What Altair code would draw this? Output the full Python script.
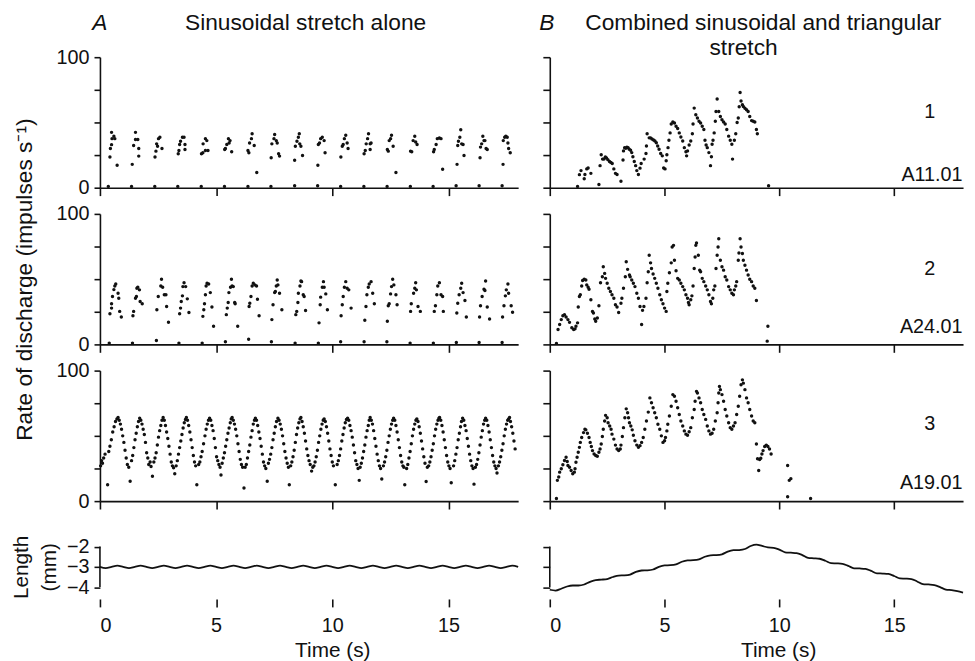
import altair as alt
import pandas as pd

# ---------------- data (time s, rate impulses/s) ----------------
# Column A: sinusoidal stretch alone
A1 = [  # A11.01
    (0.36, 1), (0.43, 23.5), (0.45, 30), (0.50, 33), (0.52, 37.6), (0.50, 42.4), (0.60, 39.4), (0.64, 37.6), (0.74, 17.2),
    (1.36, 1), (1.39, 17.9), (1.45, 32.3), (1.53, 42.4), (1.53, 36.9), (1.63, 36.9), (1.67, 30.1), (1.67, 24.2),
    (2.36, 1), (2.37, 23.5), (2.41, 28), (2.44, 33.6), (2.52, 37.6), (2.58, 38.6), (2.67, 30.1), (2.48, 31.8),
    (3.35, 1), (3.37, 26), (3.40, 28.5), (3.43, 33.1), (3.47, 35.6), (3.55, 38.6), (3.62, 38.6), (3.66, 33.1), (3.66, 29.3),
    (4.36, 1), (4.37, 26), (4.43, 26.8), (4.44, 33.6), (4.54, 37.6), (4.60, 36.1), (4.65, 28.5), (4.54, 28.5),
    (5.36, 1), (5.37, 29.3), (5.40, 30.1), (5.46, 33.1), (5.53, 37.6), (5.56, 34.3), (5.60, 36.1), (5.67, 27.5),
    (6.37, 1), (6.37, 28.5), (6.41, 26.8), (6.44, 34.3), (6.52, 37.6), (6.55, 41.4), (6.64, 32.3), (6.75, 11.6),
    (7.36, 1), (7.37, 23), (7.40, 33.6), (7.49, 37.6), (7.52, 40.7), (7.59, 36.1), (7.63, 34.3), (7.69, 26), (7.73, 24.2),
    (8.38, 1.5), (8.38, 21), (8.41, 31.8), (8.48, 35.6), (8.54, 38.6), (8.58, 41.4), (8.60, 33.6), (8.65, 31.8), (8.72, 24.7),
    (9.37, 1.5), (9.38, 17.2), (9.40, 33.1), (9.45, 34.3), (9.50, 37.6), (9.57, 38.6), (9.65, 36.1), (9.69, 26.8),
    (10.36, 1), (10.37, 23.5), (10.43, 31.8), (10.47, 33.1), (10.52, 37.6), (10.58, 40.2), (10.64, 34.3), (10.68, 30.1),
    (11.36, 1), (11.37, 26), (11.42, 28.5), (11.46, 33.6), (11.52, 37.6), (11.56, 41.4), (11.63, 33.6), (11.67, 34.3), (11.63, 29.3),
    (12.36, 1), (12.37, 29.3), (12.41, 28), (12.45, 36.1), (12.51, 37.6), (12.55, 40.2), (12.62, 31.8), (12.74, 11.6),
    (13.36, 1), (13.37, 28), (13.42, 27.5), (13.48, 36.1), (13.55, 39.4), (13.59, 35), (13.65, 33.1),
    (14.34, 1), (14.36, 27.5), (14.39, 29.3), (14.47, 33.1), (14.52, 37.6), (14.61, 38.1), (14.68, 37.6), (14.75, 14.1),
    (15.33, 1.5), (15.37, 17.9), (15.40, 32.3), (15.43, 35.6), (15.49, 38.6), (15.53, 44.4), (15.57, 33.6), (15.63, 33.1), (15.67, 24.7),
    (16.32, 1.5), (16.36, 23), (16.38, 31.1), (16.43, 33.6), (16.48, 39.4), (16.53, 36.1), (16.57, 36.1), (16.62, 30.1), (16.67, 29.3),
    (17.31, 1.5), (17.35, 17.9), (17.36, 36.1), (17.42, 38.6), (17.47, 39.4), (17.53, 38.6), (17.59, 30.1), (17.66, 26.8), (17.56, 34.3),
]
A2 = [  # A24.01
    (0.40, 1), (0.43, 23.5), (0.50, 27.8), (0.50, 31.1), (0.54, 36.7), (0.60, 42), (0.64, 44.8), (0.68, 46.3), (0.78, 39.2), (0.81, 35.4), (0.85, 25.3), (0.92, 21),
    (1.40, 1), (1.42, 22), (1.45, 25.3), (1.53, 35.4), (1.57, 36.7), (1.59, 43), (1.63, 43.8), (1.70, 41.8), (1.73, 32.9), (1.82, 31.1),
    (2.43, 3), (2.45, 26.6), (2.51, 36.7), (2.62, 44.8), (2.65, 49.9), (2.70, 43.8), (2.77, 38), (2.84, 38), (2.87, 29.1), (2.95, 17),
    (3.40, 1), (3.43, 23.5), (3.47, 27.8), (3.50, 32.9), (3.55, 37.2), (3.57, 44.3), (3.62, 47.3), (3.69, 44.3), (3.76, 34.9), (3.83, 24.5),
    (4.40, 1), (4.43, 21.5), (4.47, 26.6), (4.50, 31.1), (4.54, 38), (4.57, 44.8), (4.61, 46.8), (4.68, 46.3), (4.75, 39.7), (4.82, 28.6), (4.89, 13.9),
    (5.40, 2), (5.44, 22.8), (5.48, 27.8), (5.52, 32.1), (5.55, 39.7), (5.62, 43.8), (5.66, 49.9), (5.69, 44.8), (5.74, 44.3), (5.80, 32.1), (5.82, 31.1), (5.93, 13.9),
    (6.40, 4), (6.42, 29.1), (6.45, 31.6), (6.50, 36.7), (6.55, 44.8), (6.60, 46.8), (6.67, 45.6), (6.74, 44.8), (6.78, 34.6), (6.85, 22),
    (7.38, 2), (7.40, 19), (7.45, 30.4), (7.52, 39.7), (7.55, 40.5), (7.59, 44.8), (7.63, 49.4), (7.66, 45.6), (7.73, 39.2), (7.83, 26.6),
    (8.40, 1), (8.43, 22.8), (8.47, 25.3), (8.52, 32.1), (8.54, 39.2), (8.61, 44.8), (8.65, 48.6), (8.68, 48.1), (8.75, 38), (8.79, 36.7), (8.85, 26),
    (9.40, 1), (9.43, 16.5), (9.48, 30.4), (9.50, 36.2), (9.57, 43.8), (9.62, 48.1), (9.65, 43.8), (9.72, 38.7), (9.79, 26.6),
    (10.36, 2), (10.38, 22), (10.43, 30.4), (10.47, 36.7), (10.52, 43.8), (10.58, 48.1), (10.64, 43), (10.71, 41.8), (10.81, 27.8),
    (11.37, 2), (11.40, 18.5), (11.45, 29.1), (11.49, 38), (11.55, 43.8), (11.59, 46.3), (11.67, 48.1), (11.74, 39.2), (11.81, 31.1),
    (12.35, 2), (12.37, 17.8), (12.41, 29.6), (12.45, 31.1), (12.51, 38.7), (12.55, 44.3), (12.60, 49.9), (12.65, 45.6), (12.74, 38), (12.79, 30.4),
    (13.35, 1), (13.37, 25.3), (13.40, 31.1), (13.50, 39.2), (13.55, 43), (13.59, 47.3), (13.62, 41.8), (13.69, 29.1), (13.79, 25.3),
    (14.35, 1), (14.39, 25.3), (14.44, 29.6), (14.50, 38), (14.54, 44.8), (14.61, 47.3), (14.68, 38), (14.75, 36.7), (14.78, 25.3),
    (15.34, 1.5), (15.36, 24.1), (15.40, 31.6), (15.46, 38), (15.53, 43), (15.57, 46.8), (15.63, 39.7), (15.71, 33.6), (15.77, 21),
    (16.32, 1.5), (16.34, 21), (16.38, 29.6), (16.45, 36.7), (16.53, 42.3), (16.60, 48.6), (16.57, 41.3), (16.67, 28.6), (16.77, 19.5),
    (17.31, 1.5), (17.33, 21), (17.39, 29.6), (17.45, 37.2), (17.49, 41.8), (17.56, 46.3), (17.59, 39.2), (17.70, 29.6), (17.76, 24.6),
]
A3_t = [
    0.03, 0.07, 0.11, 0.16, 0.22, 0.33, 0.38, 0.43, 0.49, 0.55, 0.61, 0.67, 0.73, 0.78, 0.83, 0.88, 0.93, 0.98, 1.03, 1.08, 1.13, 1.18, 1.24,
    1.30, 1.36, 1.41, 1.46, 1.51, 1.56, 1.61, 1.66, 1.71, 1.76, 1.81, 1.86, 1.91, 1.96, 2.01, 2.06, 2.10, 2.16, 2.20, 2.26,
    2.32, 2.37, 2.42, 2.47, 2.52, 2.57, 2.62, 2.67, 2.72, 2.77, 2.82, 2.87, 2.92, 2.97, 3.02, 3.07, 3.12, 3.17, 3.22,
    3.28, 3.33, 3.38, 3.43, 3.48, 3.53, 3.58, 3.63, 3.68, 3.72, 3.77, 3.82, 3.87, 3.92, 3.97, 4.02, 4.07, 4.12, 4.17,
    4.25, 4.30, 4.35, 4.40, 4.46, 4.52, 4.57, 4.62, 4.67, 4.72, 4.77, 4.82, 4.87, 4.92, 4.97, 5.02, 5.07, 5.12, 5.17, 5.21,
    5.26, 5.31, 5.36, 5.41, 5.46, 5.51, 5.56, 5.61, 5.65, 5.69, 5.74, 5.79, 5.84, 5.89, 5.94, 5.99, 6.04, 6.09, 6.14, 6.20,
    6.25, 6.30, 6.35, 6.40, 6.45, 6.50, 6.55, 6.60, 6.65, 6.69, 6.74, 6.79, 6.84, 6.89, 6.94, 6.99, 7.04, 7.09, 7.14, 7.20,
    7.25, 7.30, 7.35, 7.40, 7.45, 7.50, 7.55, 7.60, 7.66, 7.71, 7.76, 7.81, 7.86, 7.91, 7.96, 8.01, 8.06, 8.11, 8.15,
    8.21, 8.26, 8.31, 8.36, 8.41, 8.46, 8.51, 8.56, 8.61, 8.65, 8.70, 8.75, 8.80, 8.85, 8.90, 8.95, 9.00, 9.05, 9.11,
    9.16, 9.21, 9.26, 9.31, 9.36, 9.41, 9.46, 9.51, 9.56, 9.61, 9.65, 9.70, 9.75, 9.80, 9.85, 9.90, 9.95, 10.00, 10.05, 10.13,
    10.21, 10.26, 10.31, 10.36, 10.41, 10.46, 10.51, 10.56, 10.61, 10.66, 10.71, 10.76, 10.81, 10.86, 10.91, 10.96, 11.01, 11.06, 11.11, 11.16,
    11.20, 11.25, 11.30, 11.35, 11.40, 11.45, 11.50, 11.55, 11.59, 11.63, 11.68, 11.73, 11.78, 11.83, 11.88, 11.93, 11.98, 12.03, 12.08, 12.13,
    12.20, 12.25, 12.30, 12.35, 12.40, 12.45, 12.50, 12.55, 12.60, 12.64, 12.69, 12.74, 12.79, 12.84, 12.89, 12.94, 12.99, 13.04, 13.08, 13.12,
    13.20, 13.25, 13.30, 13.35, 13.40, 13.45, 13.50, 13.55, 13.60, 13.64, 13.69, 13.74, 13.79, 13.84, 13.89, 13.94, 13.99, 14.04, 14.09,
    14.15, 14.20, 14.25, 14.30, 14.35, 14.40, 14.45, 14.50, 14.55, 14.59, 14.62, 14.67, 14.72, 14.77, 14.82, 14.87, 14.92, 14.97, 15.02, 15.07, 15.12,
    15.22, 15.27, 15.32, 15.37, 15.42, 15.47, 15.52, 15.56, 15.61, 15.66, 15.71, 15.76, 15.81, 15.86, 15.91, 15.96, 16.01, 16.06, 16.10,
    16.16, 16.21, 16.26, 16.31, 16.36, 16.41, 16.46, 16.51, 16.56, 16.60, 16.65, 16.70, 16.75, 16.80, 16.85, 16.90, 16.95, 17.00, 17.05, 17.09,
    17.15, 17.20, 17.25, 17.30, 17.35, 17.40, 17.45, 17.50, 17.55, 17.59, 17.63, 17.67, 17.72, 17.77, 17.82, 17.87,
]
A3_r = [
    27, 31, 29, 33, 36, 12.6, 38, 42, 47, 53, 57, 61, 63, 64, 62, 59, 55, 50, 45, 39, 33, 28, 26,
    15.2, 31, 35, 41, 47, 52, 57, 61, 63.5, 62, 59, 55, 51, 45, 37, 33, 28, 30, 26.5, 19,
    30, 33, 37, 43, 49, 54, 58, 62, 64, 62, 58, 53, 48, 42, 36, 30, 27, 25.5, 21,
    27, 31, 36, 41, 46, 51, 56, 60, 62.5, 64, 62, 58, 53, 47, 41, 35, 30, 27, 12.6,
    28, 30, 34, 38, 44, 50, 55, 59, 62, 63.5, 62, 58, 54, 48, 41, 34, 31, 28, 26, 20,
    29, 33, 37, 42, 47, 52, 56, 60, 63, 64, 62, 59, 55, 50, 44, 38, 32, 28, 26, 10.1,
    26, 28, 33, 38, 43, 49, 54, 59, 62, 63.5, 62, 58, 53, 48, 42, 36, 30, 27, 25, 15.2,
    29, 32, 36, 41, 47, 52, 57, 61, 63.5, 62, 59, 55, 50, 44, 38, 33, 29, 26, 12.6,
    27, 30, 34, 39, 45, 51, 56, 60, 63, 64, 61, 57, 52, 46, 40, 35, 31, 28, 23,
    26, 27, 30, 34, 39, 45, 50, 55, 59, 62, 63, 61, 57, 52, 46, 40, 35, 30, 27, 12.6,
    28, 31, 35, 40, 46, 51, 56, 60, 62.5, 63.5, 62, 58, 54, 49, 43, 37, 31, 28, 25, 15.9,
    26, 29, 33, 38, 43, 49, 54, 58, 62, 64, 62, 59, 54, 48, 42, 36, 31, 27, 25, 17,
    27, 30, 34, 39, 45, 50, 55, 59, 62, 63.5, 62, 58, 53, 47, 41, 35, 30, 27, 26, 12.6,
    25, 28, 33, 38, 44, 50, 55, 59, 62, 63, 61, 57, 52, 46, 40, 34, 29, 15, 26,
    27, 30, 34, 39, 44, 50, 55, 59, 62, 63.5, 64, 62, 58, 53, 47, 41, 35, 30, 27, 25, 14,
    27, 31, 36, 41, 47, 52, 57, 61, 63.5, 62, 58, 54, 48, 42, 36, 31, 27, 25, 13,
    26, 28, 32, 37, 43, 49, 54, 59, 62, 63.5, 62, 58, 53, 47, 41, 35, 30, 27, 25, 21.5,
    27, 30, 34, 39, 44, 50, 55, 59, 62, 63, 64, 61, 57, 52, 46, 40,
]
A3 = list(zip(A3_t, A3_r))  # A19.01

# Column B: combined sinusoidal and triangular stretch
B1 = [  # A11.01
    (1.21, 1), (2.14, 2.5), (3.10, 5), (9.53, 1.5),
    (1.29, 10), (1.36, 13.1), (1.50, 6.8), (1.53, 10.1), (1.61, 14.4), (1.67, 15.1), (1.79, 11),
    (2.19, 16.9), (2.24, 25.2), (2.30, 21.9), (2.36, 22), (2.42, 23.5), (2.47, 22.7), (2.53, 21.5), (2.60, 20.1), (2.66, 19.4), (2.72, 18.6), (2.79, 14.4), (2.86, 11), (2.93, 10.1),
    (3.19, 21.2), (3.21, 28.2), (3.26, 30.7), (3.31, 30.2), (3.36, 31), (3.41, 30.7), (3.46, 29.5), (3.52, 28.7), (3.57, 26.9), (3.62, 23.7), (3.68, 20.1), (3.74, 16.9), (3.79, 13.1), (3.86, 10.1), (3.93, 15), (3.98, 18.6),
    (4.11, 21.9), (4.19, 26.2), (4.21, 32), (4.24, 41.3), (4.33, 38.2), (4.39, 38.2), (4.45, 37.3), (4.52, 36.5), (4.58, 35.8), (4.64, 34.5), (4.70, 32), (4.76, 29.5), (4.83, 26.2), (4.90, 24.4), (4.96, 15.1), (5.02, 14.4),
    (5.07, 20.6), (5.10, 25.2), (5.15, 30.7), (5.19, 36.3), (5.24, 42), (5.29, 48.8), (5.36, 50.3), (5.43, 49.6), (5.50, 47.1), (5.57, 45.4), (5.64, 42), (5.71, 38.8), (5.79, 35.8), (5.86, 30.7), (5.93, 27.5), (5.96, 24.4), (6.00, 28.2), (6.07, 32.7), (6.14, 35.8), (6.21, 41.3), (6.24, 48.8),
    (6.29, 61), (6.36, 55.9), (6.43, 53.4), (6.50, 50.9), (6.57, 49.6), (6.64, 47.1), (6.71, 44.6), (6.76, 36.3), (6.81, 32.7), (6.86, 30.7), (6.93, 26.9), (7.00, 16.9), (7.04, 23.7), (7.07, 33.3), (7.11, 36.3), (7.16, 42), (7.21, 50.9),
    (7.24, 58.4), (7.29, 68), (7.36, 58.4), (7.43, 54.6), (7.50, 52.1), (7.57, 50.3), (7.64, 48.8), (7.71, 44.6), (7.79, 39.5), (7.86, 36.3), (7.93, 33.3), (7.96, 21.9), (8.04, 36.3), (8.10, 41.3), (8.16, 50), (8.21, 53.4),
    (8.25, 62), (8.29, 73), (8.33, 66.5), (8.39, 63.5), (8.43, 62.2), (8.50, 60.9), (8.57, 59.7), (8.64, 58.4), (8.71, 54.6), (8.79, 51.4), (8.86, 50.9), (8.93, 50.3), (9.00, 44.6), (9.04, 41.3),
]
B2 = [  # A24.01
    (0.29, 0.8), (0.36, 11.4), (0.43, 15.2), (0.50, 19), (0.57, 22), (0.64, 22.8), (0.71, 21), (0.79, 19), (0.86, 16.9), (0.96, 12.7), (1.04, 11.4), (1.10, 11.9), (1.14, 13.9), (1.21, 16.5),
    (1.24, 28.6), (1.29, 36.7), (1.33, 38), (1.39, 44.8), (1.43, 48.9), (1.50, 49.9), (1.57, 49.4), (1.61, 45.6), (1.67, 43.8), (1.71, 42.3), (1.79, 34.2), (1.86, 25.3), (1.90, 24), (1.96, 19.5), (2.00, 17.7), (2.07, 20.2),
    (2.14, 29.6), (2.21, 47.3), (2.29, 51.9), (2.33, 59.5), (2.39, 54.4), (2.43, 50.6), (2.50, 46.8), (2.57, 43), (2.64, 40.5), (2.71, 38), (2.79, 35.4), (2.86, 30.4), (2.93, 28.6), (3.00, 24.5),
    (3.10, 31.6), (3.14, 35.4), (3.21, 43), (3.29, 51.9), (3.33, 63.3), (3.39, 57.5), (3.47, 53.2), (3.50, 51.9), (3.57, 49.4), (3.64, 46.8), (3.71, 44.3), (3.79, 39.2), (3.86, 35.4), (3.93, 29.1), (4.00, 15.2),
    (4.04, 26.1), (4.10, 29.1), (4.19, 35.4), (4.24, 47.3), (4.29, 55.7), (4.33, 68.3), (4.39, 62.5), (4.43, 58.2), (4.50, 53.9), (4.57, 50.6), (4.64, 46.8), (4.71, 43), (4.79, 38), (4.86, 34.2), (4.93, 31.1), (5.00, 27.8), (5.07, 25.3),
    (5.10, 40.5), (5.14, 46.8), (5.21, 54.9), (5.29, 62.5), (5.33, 74.7), (5.39, 75.9), (5.43, 64.5), (5.50, 56.5), (5.57, 50.6), (5.64, 49.4), (5.71, 46.8), (5.79, 44.3), (5.86, 41.8), (5.93, 38), (6.00, 35.4), (6.04, 32.1), (6.07, 30.4),
    (6.14, 34.2), (6.19, 37.2), (6.24, 44.8), (6.29, 58.2), (6.33, 67), (6.36, 75.9), (6.39, 77.7), (6.47, 68.3), (6.53, 56.9), (6.57, 55.7), (6.64, 50.6), (6.71, 48.1), (6.79, 44.8), (6.86, 41.8), (6.93, 38), (7.00, 32.9), (7.04, 31.1),
    (7.10, 35.4), (7.14, 41.8), (7.19, 44.8), (7.24, 58.2), (7.29, 68.3), (7.33, 74.7), (7.36, 81), (7.43, 64.5), (7.50, 59.5), (7.57, 56.9), (7.64, 51.9), (7.71, 49.4), (7.79, 44.3), (7.86, 41.8), (7.93, 39.2), (8.00, 38),
    (8.04, 41.8), (8.10, 44.8), (8.14, 48.1), (8.21, 64.5), (8.24, 70.1), (8.29, 81), (8.33, 74.7), (8.39, 69.6), (8.43, 64.5), (8.50, 60.7), (8.57, 56.9), (8.64, 53.2), (8.71, 49.9), (8.79, 48.1), (8.86, 44.8), (8.93, 43), (9.00, 33.6),
    (9.50, 13.9), (9.47, 2.5),
]
B3 = [  # A19.01
    (0.29, 2.0), (0.33, 15.9), (0.39, 18.5), (0.43, 22.2), (0.50, 24.8), (0.57, 27.8), (0.64, 31.1), (0.71, 33.6), (0.76, 30.3), (0.79, 27.3), (0.86, 26.0), (0.93, 23.5), (1.00, 21.0),
    (1.07, 22.2), (1.10, 24.8), (1.14, 29.8), (1.19, 33.6), (1.24, 37.4), (1.29, 41.2), (1.33, 45.0), (1.39, 48.8), (1.47, 52.5), (1.53, 55.1), (1.57, 54.6), (1.64, 52.0), (1.71, 48.8), (1.76, 45.0), (1.81, 41.9), (1.86, 38.7), (1.93, 36.1), (2.00, 34.9), (2.07, 34.4),
    (2.14, 37.4), (2.19, 39.9), (2.24, 43.7), (2.29, 49.5), (2.33, 55.1), (2.39, 61.4), (2.43, 65.7), (2.50, 63.9), (2.54, 60.1), (2.61, 57.6), (2.67, 55.1), (2.71, 51.3), (2.79, 47.5), (2.86, 42.9), (2.93, 39.9), (3.00, 38.7),
    (3.07, 39.9), (3.10, 42.9), (3.16, 49.5), (3.21, 56.3), (3.27, 63.9), (3.33, 70.7), (3.39, 67.7), (3.43, 63.9), (3.47, 60.1), (3.53, 57.6), (3.59, 54.6), (3.64, 50.5), (3.71, 46.2), (3.79, 42.9), (3.86, 41.2), (3.93, 42.5),
    (4.00, 45.0), (4.07, 48.8), (4.14, 55.1), (4.21, 61.4), (4.29, 68.2), (4.36, 79.1), (4.43, 75.3), (4.50, 71.5), (4.57, 67.7), (4.64, 63.9), (4.71, 58.9), (4.79, 55.1), (4.86, 50.0), (4.93, 45.0),
    (5.00, 46.2), (5.04, 48.8), (5.10, 53.8), (5.14, 58.9), (5.21, 65.2), (5.29, 72.7), (5.36, 81.6), (5.43, 80.3), (5.50, 76.5), (5.57, 71.5), (5.64, 66.4), (5.71, 61.4), (5.79, 57.6), (5.86, 53.8), (5.93, 51.3), (6.00, 50.5),
    (6.07, 53.1), (6.14, 56.3), (6.21, 63.9), (6.29, 70.2), (6.33, 76.5), (6.39, 84.1), (6.43, 82.9), (6.50, 79.1), (6.57, 75.3), (6.64, 70.2), (6.71, 66.4), (6.79, 62.6), (6.86, 57.6), (6.93, 53.8), (7.00, 51.3),
    (7.07, 52.0), (7.14, 55.1), (7.21, 61.4), (7.29, 67.7), (7.33, 75.3), (7.36, 82.9), (7.39, 87.9), (7.43, 85.4), (7.50, 81.6), (7.57, 76.5), (7.64, 70.2), (7.71, 65.2), (7.79, 60.1), (7.86, 56.3), (7.93, 55.1),
    (8.00, 57.6), (8.07, 60.1), (8.14, 66.4), (8.21, 72.7), (8.27, 80.3), (8.33, 89.2), (8.39, 92.9), (8.43, 90.4), (8.50, 85.4), (8.57, 79.1), (8.64, 75.3), (8.71, 70.2), (8.79, 65.2), (8.86, 61.4), (8.93, 60.1),
    (9.00, 43.7), (9.05, 32.4), (9.10, 23.5), (9.14, 31.9), (9.19, 32.9), (9.24, 36.1), (9.29, 38.7), (9.36, 41.9), (9.43, 42.9), (9.50, 41.9), (9.57, 39.9), (9.64, 36.1),
    (10.36, 27.3), (10.43, 15.9), (10.50, 17.2), (10.36, 3.3), (11.36, 2.0),
]

# Length traces (mm), read every 0.25 s
LEN_T = [
    0.0, 0.25, 0.5, 0.75, 1.0, 1.25, 1.5, 1.75, 2.0, 2.25, 2.5, 2.75, 3.0, 3.25, 3.5, 3.75,
    4.0, 4.25, 4.5, 4.75, 5.0, 5.25, 5.5, 5.75, 6.0, 6.25, 6.5, 6.75, 7.0, 7.25, 7.5, 7.75,
    8.0, 8.25, 8.5, 8.75, 9.0, 9.25, 9.5, 9.75, 10.0, 10.25, 10.5, 10.75, 11.0, 11.25, 11.5, 11.75,
    12.0, 12.25, 12.5, 12.75, 13.0, 13.25, 13.5, 13.75, 14.0, 14.25, 14.5, 14.75, 15.0, 15.25, 15.5, 15.75,
    16.0, 16.25, 16.5, 16.75, 17.0, 17.25, 17.5, 17.75, 18.0,
]
LEN_A = [
    -3.0, -3.06, -3.0, -2.94, -3.0, -3.06, -3.0, -2.94, -3.0, -3.06, -3.0, -2.94, -3.0, -3.06, -3.0, -2.94,
    -3.0, -3.06, -3.0, -2.94, -3.0, -3.06, -3.0, -2.94, -3.0, -3.06, -3.0, -2.94, -3.0, -3.06, -3.0, -2.94,
    -3.0, -3.06, -3.0, -2.94, -3.0, -3.06, -3.0, -2.94, -3.0, -3.06, -3.0, -2.94, -3.0, -3.06, -3.0, -2.94,
    -3.0, -3.06, -3.0, -2.94, -3.0, -3.06, -3.0, -2.94, -3.0, -3.06, -3.0, -2.94, -3.0, -3.06, -3.0, -2.94,
    -3.0, -3.06, -3.0, -2.94, -3.0, -3.06, -3.0, -2.94, -3.0,
]
LEN_B = [
    -4.13, -4.17, -4.08, -3.97, -3.92, -3.92, -3.87, -3.74, -3.65, -3.63, -3.60, -3.50, -3.43, -3.42, -3.38, -3.25,
    -3.18, -3.17, -3.13, -3.00, -2.93, -2.92, -2.88, -2.75, -2.68, -2.67, -2.63, -2.50, -2.43, -2.42, -2.38, -2.25,
    -2.18, -2.17, -2.12, -1.97, -1.90, -1.97, -2.04, -2.06, -2.15, -2.28, -2.30, -2.32, -2.42, -2.56, -2.58, -2.60,
    -2.70, -2.82, -2.83, -2.85, -2.95, -3.07, -3.08, -3.10, -3.20, -3.32, -3.33, -3.35, -3.45, -3.57, -3.58, -3.60,
    -3.72, -3.85, -3.87, -3.90, -4.00, -4.12, -4.15, -4.20, -4.27,
]
LEN_TICKS = [-2, -3, -4]

TAGS = [("1", "A11.01", 58, 9.5), ("2", "A24.01", 58, 13), ("3", "A19.01", 59, 13.5)]

# ---------------- styling ----------------
FONT = "Liberation Sans"
INK = "#111111"
W_L, W_R, H = 423, 418, 132
GAP = 26.5
PX_PER_MM = 20.5
LEN_TOP_EXTRA = 19.5          # extra white space above the length trace
H_LEN = 2 * PX_PER_MM + LEN_TOP_EXTRA
LEN_DOMAIN = [-4, -2 + LEN_TOP_EXTRA / PX_PER_MM]
HEAD = 23


def xenc(**kw):
    return alt.X("t:Q", scale=alt.Scale(domain=[0, 18], nice=False, zero=False), axis=alt.Axis(**kw))


def rate_panel(pts, width, left, ytitle=None, tag=None, titles=()):
    df = pd.DataFrame(pts, columns=["t", "r"])
    X = xenc(values=[0, 5, 10, 15], labels=False, tickSize=8, title=None, grid=False)
    if left:
        yax = alt.Axis(values=[0, 25, 50, 75, 100], tickSize=6, labelPadding=5, grid=False,
                       labelExpr="datum.value == 0 || datum.value == 100 ? datum.label : ''",
                       title=ytitle, titlePadding=20, titleFontSize=23)
    else:
        yax = alt.Axis(values=[0, 25, 50, 75, 100], labels=False, tickSize=7, grid=False, title=None)
    Y = alt.Y("r:Q", scale=alt.Scale(domain=[0, 100], nice=False), axis=yax)
    layers = [alt.Chart(df).mark_circle(size=12, color=INK, opacity=1).encode(x=X, y=Y)]
    if tag is not None:
        num, code, rn, rc = tag
        layers.append(alt.Chart(pd.DataFrame({"t": [16.55], "r": [rn], "s": [num]}))
                      .mark_text(font=FONT, fontSize=20, color=INK, align="center", baseline="middle")
                      .encode(x=X, y=Y, text="s:N"))
        layers.append(alt.Chart(pd.DataFrame({"t": [17.98], "r": [rc], "s": [code]}))
                      .mark_text(font=FONT, fontSize=20, color=INK, align="right", baseline="middle")
                      .encode(x=X, y=Y, text="s:N"))
    for text, px, py, italic in titles:
        mk = dict(font=FONT, fontSize=HEAD, color=INK, align="center", baseline="middle")
        if italic:
            mk["fontStyle"] = "italic"
        layers.append(alt.Chart(pd.DataFrame({"s": [text]})).mark_text(**mk)
                      .encode(text="s:N", x=alt.value(px), y=alt.value(py)))
    return alt.layer(*layers).properties(width=width, height=H)


def length_panel(tv, width, left, title_x):
    df = pd.DataFrame({"t": LEN_T, "v": tv})
    X = xenc(values=[0, 5, 10, 15], offset=12, domain=False, tickSize=8, labelPadding=9,
             labelFontSize=20, title="Time (s)", titleFontSize=21, titleFontWeight="normal",
             titlePadding=4, titleX=title_x, grid=False)
    if left:
        yax = alt.Axis(values=LEN_TICKS, format="d", tickSize=6, labelPadding=5, grid=False, domain=False,
                       title=["Length", "(mm)"], titleFontSize=21, titlePadding=7, titleLineHeight=28,
                       titleY=LEN_TOP_EXTRA + PX_PER_MM)
    else:
        yax = alt.Axis(values=LEN_TICKS, labels=False, tickSize=7, grid=False, domain=False, title=None)
    Y = alt.Y("v:Q", scale=alt.Scale(domain=LEN_DOMAIN, nice=False, zero=False), axis=yax)
    axis_line = alt.Chart(pd.DataFrame({"t": [0], "v": [min(LEN_TICKS)], "v2": [max(LEN_TICKS)]})) \
        .mark_rule(color=INK, strokeWidth=1.6).encode(x=X, y=Y, y2="v2:Q")
    trace = alt.Chart(df).mark_line(color=INK, strokeWidth=1.8, interpolate="monotone", clip=False) \
        .encode(x=X, y=Y)
    return alt.layer(axis_line, trace).properties(width=width, height=H_LEN)


panels = [
    rate_panel(A1, W_L, True, titles=[("A", 0, -35, True), ("Sinusoidal stretch alone", 208, -35, False)]),
    rate_panel(B1, W_R, False, tag=TAGS[0],
               titles=[("B", -3, -35, True), ("Combined sinusoidal and triangular", 216, -35, False),
                       ("stretch", 196, -9, False)]),
    rate_panel(A2, W_L, True, ytitle="Rate of discharge (impulses s⁻¹)"),
    rate_panel(B2, W_R, False, tag=TAGS[1]),
    rate_panel(A3, W_L, True),
    rate_panel(B3, W_R, False, tag=TAGS[2]),
    length_panel(LEN_A, W_L, True, 235),
    length_panel(LEN_B, W_R, False, 231),
]

chart = alt.concat(*panels, columns=2, spacing={"row": GAP, "column": 32}, bounds="flush").configure(
    font=FONT, padding={"left": 3, "top": 0, "right": 0, "bottom": 0}, background="white"
).configure_view(stroke=None).configure_axis(
    domainColor=INK, tickColor=INK, domainWidth=1.6, tickWidth=1.6, labelColor=INK, titleColor=INK,
    labelFont=FONT, titleFont=FONT, labelFontSize=20, titleFontSize=21, titleFontWeight="normal"
)

chart.save("out.html", embed_options={"renderer": "svg", "actions": False})
